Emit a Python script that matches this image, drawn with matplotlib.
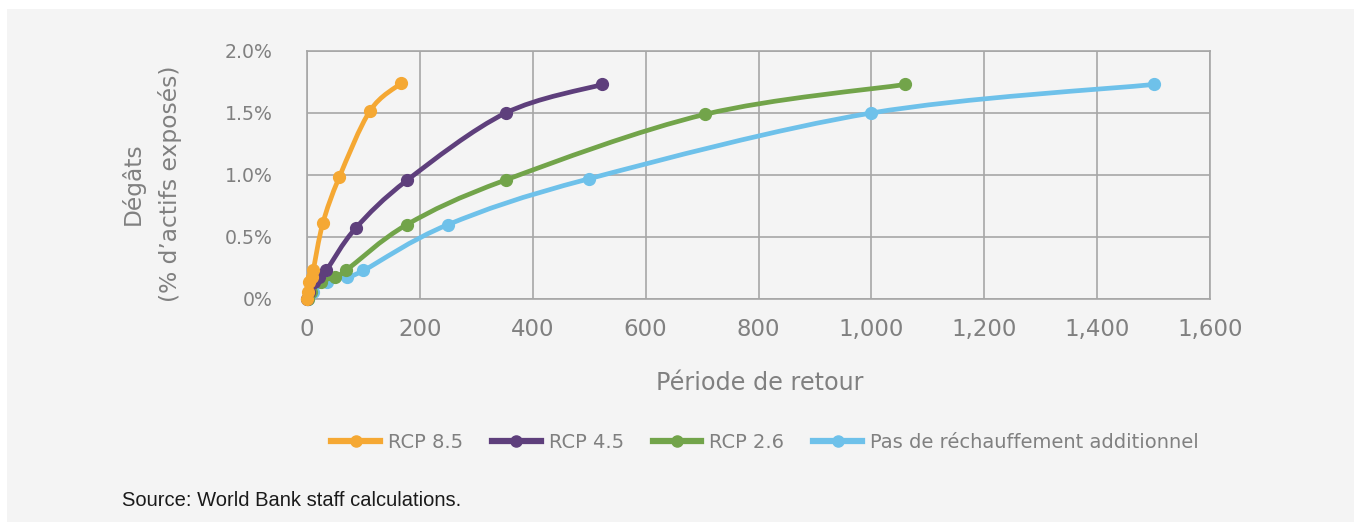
import matplotlib
matplotlib.use("Agg")
import matplotlib.pyplot as plt
import numpy as np
from matplotlib.path import Path
from matplotlib.patches import PathPatch, Rectangle
from matplotlib.lines import Line2D
from matplotlib.ticker import FuncFormatter

# -----------------------------
# Data
# -----------------------------
series_names = ["RCP 8.5", "RCP 4.5", "RCP 2.6", "Pas de réchauffement additionnel"]

rcp85_x = [0.2, 1.5, 4, 8, 11, 28, 57, 112, 167]
rcp85_y = [0.0, 0.06, 0.14, 0.18, 0.23, 0.61, 0.98, 1.52, 1.74]

rcp45_x = [0.5, 3.5, 12, 22, 34, 86, 178, 352, 523]
rcp45_y = [0.0, 0.06, 0.14, 0.18, 0.23, 0.57, 0.96, 1.50, 1.73]

rcp26_x = [1, 7, 25, 50, 69, 177, 352, 706, 1060]
rcp26_y = [0.0, 0.06, 0.14, 0.18, 0.23, 0.60, 0.96, 1.49, 1.73]

base_x = [1, 10, 35, 71, 100, 250, 500, 1000, 1500]
base_y = [0.0, 0.06, 0.14, 0.18, 0.23, 0.60, 0.97, 1.50, 1.73]

x_ticks = [0, 200, 400, 600, 800, 1000, 1200, 1400, 1600]
y_ticks = [0.0, 0.5, 1.0, 1.5, 2.0]
y_tick_labels = ["0%", "0.5%", "1.0%", "1.5%", "2.0%"]

colors = ["#F5A833", "#5E3F7C", "#72A44A", "#6EC1EA"]
BG = "#F4F4F4"
GRID = "#A6A6A6"
TXT = "#808080"


def smooth_path(xs, ys):
    # Excel-style smoothed line: cubic bezier through every point
    p = np.column_stack([xs, ys]).astype(float)
    n = len(p)
    verts = [p[0]]
    codes = [Path.MOVETO]
    for i in range(n - 1):
        p0 = p[i - 1] if i > 0 else p[i]
        p3 = p[i + 2] if i + 2 < n else p[i + 1]
        c1 = p[i] + (p[i + 1] - p0) / 6.0
        c2 = p[i + 1] - (p3 - p[i]) / 6.0
        verts += [c1, c2, p[i + 1]]
        codes += [Path.CURVE4] * 3
    return Path(verts, codes)


# -----------------------------
# Figure
# -----------------------------
fig = plt.figure(figsize=(13.54, 5.22), dpi=100)
fig.patch.set_facecolor("white")
fig.patches.append(Rectangle((7 / 1354, 0), 1, 1 - 9 / 522, transform=fig.transFigure,
                             facecolor=BG, edgecolor="none", zorder=-10))

ax = fig.add_axes([307 / 1354, 1 - 299 / 522, (1210 - 307) / 1354, (299 - 51) / 522])
ax.set_facecolor(BG)

all_x = [rcp85_x, rcp45_x, rcp26_x, base_x]
all_y = [rcp85_y, rcp45_y, rcp26_y, base_y]

handles = []
for k in [3, 2, 1, 0]:
    xs, ys, c = all_x[k], all_y[k], colors[k]
    patch = PathPatch(smooth_path(xs, ys), fill=False, edgecolor=c, lw=3.4,
                      capstyle="round", joinstyle="round", zorder=3 + (3 - k))
    ax.add_patch(patch)
    ax.plot(xs, ys, "o", color=c, ms=8.5, mec=c, zorder=3.5 + (3 - k), clip_on=False)

for k in range(4):
    handles.append(Line2D([], [], color=colors[k], lw=4.5, marker="o", ms=8, label=series_names[k]))

ax.set_xlim(0, 1600)
ax.set_ylim(0, 2.0)
ax.set_xticks(x_ticks)
ax.set_yticks(y_ticks)
ax.set_yticklabels(y_tick_labels)
ax.xaxis.set_major_formatter(FuncFormatter(lambda v, p: f"{v:,.0f}"))
ax.grid(True, color=GRID, lw=1.2)
ax.set_axisbelow(True)
for s in ax.spines.values():
    s.set_color(GRID)
    s.set_linewidth(1.2)
ax.tick_params(axis="both", length=0, colors=TXT)
ax.tick_params(axis="x", labelsize=16.5, pad=14)
ax.tick_params(axis="y", labelsize=13.6, pad=25)

# axis titles
fig.text(760 / 1354, 1 - 383 / 522, "Période de retour", fontsize=17.2, color=TXT,
         ha="center", va="center")
fig.text(133 / 1354, 1 - 184 / 522, "Dégâts", fontsize=16.8, color=TXT,
         ha="center", va="center", rotation=90)
fig.text(170 / 1354, 1 - 184 / 522, "(% d\u2019actifs exposés)", fontsize=16.8, color=TXT,
         ha="center", va="center", rotation=90)

leg = fig.legend(handles=handles, loc="center", bbox_to_anchor=(765 / 1354, 1 - 442 / 522),
                 ncol=4, frameon=False, fontsize=14, handlelength=2.5, handletextpad=0.4,
                 columnspacing=1.5, numpoints=1)
for t in leg.get_texts():
    t.set_color(TXT)

fig.text(122 / 1354, 1 - 500 / 522, "Source: World Bank staff calculations.",
         family="Liberation Sans", fontsize=14.5, color="#1A1A1A", ha="left", va="center")

plt.savefig("out.png", dpi=100, facecolor=fig.get_facecolor())
print("saved out.png")
